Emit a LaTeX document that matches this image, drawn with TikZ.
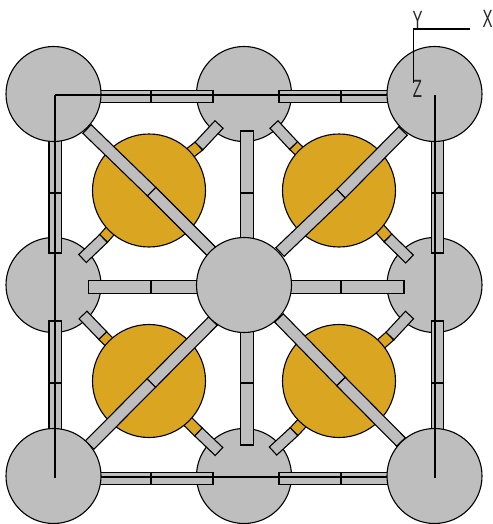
\documentclass[tikz,border=0pt]{standalone}
\usepackage{fontspec}
\setmainfont{Liberation Sans}
\usetikzlibrary{calc}
\definecolor{atomgrey}{HTML}{BEBEBE}
\definecolor{atomgold}{HTML}{DAA520}
\tikzset{
  outl/.style={draw=black,line width=1.1pt,line join=miter},
  bigatom/.style={circle,outl,fill=atomgrey,minimum size=95pt,inner sep=0pt},
  goldatom/.style={circle,outl,fill=atomgold,minimum size=113pt,inner sep=0pt},
  edgeline/.style={draw=black,line width=1.1pt},
  axlabel/.style={font=\fontsize{25}{25}\selectfont,inner sep=0pt,text=black!85,xscale=0.6}
}
% bond half: centre line from #1 to #2, half width #3, fill #4
\newcommand{\halfbond}[4]{%
  \draw[outl,fill=#4] ($#1!#3!90:#2$) -- ($#2!#3!-90:#1$) -- ($#2!#3!90:#1$) -- ($#1!#3!-90:#2$) -- cycle;}
% straight double-section bond from #1 via #2 to #3
\newcommand{\bondpair}[4]{\halfbond{#1}{#2}{#4}{atomgrey}\halfbond{#2}{#3}{#4}{atomgrey}}
\begin{document}
\begin{tikzpicture}[x=1pt,y=-1pt]
\useasboundingbox (0,0) rectangle (492,524);
% grey atoms behind
\node[bigatom] (tm) at (244,94) {};
\node[bigatom] (ml) at (53.5,285) {};
\node[bigatom] (mr) at (434.5,285) {};
\node[bigatom] (bm) at (244,476) {};
% gold stubs and grey stubs
\halfbond{(172,167)}{(199,146)}{5.5pt}{atomgold}
\halfbond{(199,146)}{(219,124.5)}{5.5pt}{atomgrey}
\halfbond{(125,214)}{(103.5,238.5)}{5.5pt}{atomgold}
\halfbond{(103.5,238.5)}{(82.5,258.5)}{5.5pt}{atomgrey}
\halfbond{(316,167)}{(293.5,145.5)}{5.5pt}{atomgold}
\halfbond{(293.5,145.5)}{(274,124.5)}{5.5pt}{atomgrey}
\halfbond{(365,212)}{(388,238)}{5.5pt}{atomgold}
\halfbond{(388,238)}{(409.5,259)}{5.5pt}{atomgrey}
\halfbond{(125,358)}{(102.7,335.5)}{5.5pt}{atomgold}
\halfbond{(102.7,335.5)}{(83,315)}{5.5pt}{atomgrey}
\halfbond{(174,408)}{(198.5,432)}{5.5pt}{atomgold}
\halfbond{(198.5,432)}{(219,451.5)}{5.5pt}{atomgrey}
\halfbond{(365,358)}{(390,336)}{5.5pt}{atomgold}
\halfbond{(390,336)}{(409.5,315)}{5.5pt}{atomgrey}
\halfbond{(316,408)}{(294,431.7)}{5.5pt}{atomgold}
\halfbond{(294,431.7)}{(273,451)}{5.5pt}{atomgrey}
% gold atoms
\node[goldatom] (g1) at (149,190.5) {};
\node[goldatom] (g2) at (339,190.5) {};
\node[goldatom] (g3) at (149,381) {};
\node[goldatom] (g4) at (339,381) {};
% diagonals
\bondpair{(87,129)}{(151.7,191.7)}{(212.5,252.5)}{6pt}
\bondpair{(403,131)}{(341,193.7)}{(280,252)}{6pt}
\bondpair{(89.7,445)}{(151.3,383)}{(213,321)}{6pt}
\bondpair{(279,318)}{(341,381.5)}{(401,442)}{6pt}
% horizontal and vertical bonds
\bondpair{(90,96.8)}{(151,96.8)}{(213,96.8)}{6pt}
\bondpair{(279,96.8)}{(341,96.8)}{(400,96.8)}{6pt}
\bondpair{(90,478.3)}{(151,478.3)}{(213,478.3)}{6pt}
\bondpair{(279,478.3)}{(341,478.3)}{(400,478.3)}{6pt}
\bondpair{(88.3,287)}{(151,287)}{(210,287)}{6.3pt}
\bondpair{(280,287)}{(341,287)}{(404,287)}{6.3pt}
\bondpair{(247,131)}{(247,193)}{(247,250)}{6.3pt}
\bondpair{(247,320)}{(247,383)}{(247,445)}{6.3pt}
\bondpair{(55.3,130)}{(55.3,193)}{(55.3,253)}{6.3pt}
\bondpair{(55.3,321)}{(55.3,383)}{(55.3,440)}{6.3pt}
\bondpair{(437.3,130)}{(437.3,193)}{(437.3,253)}{6pt}
\bondpair{(437.3,321)}{(437.3,383)}{(437.3,440)}{6pt}
% top-left atom covers its bond ends but lies under the cell edges
\node[bigatom] (tl) at (53.5,94) {};
% cell edges behind the other corner atoms
\draw[edgeline] (55,95) -- (400,95);
\draw[edgeline] (90,477) -- (400,477);
% front atoms
\node[bigatom] (tr) at (434.5,94) {};
\node[bigatom] (bl) at (53.5,476) {};
\node[bigatom] (br) at (434.5,476) {};
\node[bigatom] (cc) at (244,285) {};
% cell edges in front
\draw[edgeline] (55,95) -- (55,478);
\draw[edgeline] (435,95) -- (435,478);
% axes
\coordinate (axo) at (413.5,29);
\coordinate (axx) at (470,29);
\coordinate (axz) at (413.5,83);
\draw[edgeline] (axx) -- (axo) -- (axz);
\node[axlabel] (ylab) at (417.5,19.5) {Y};
\node[axlabel] (xlab) at (487.5,19) {X};
\node[axlabel] (zlab) at (417.5,89) {Z};
\end{tikzpicture}
\end{document}
